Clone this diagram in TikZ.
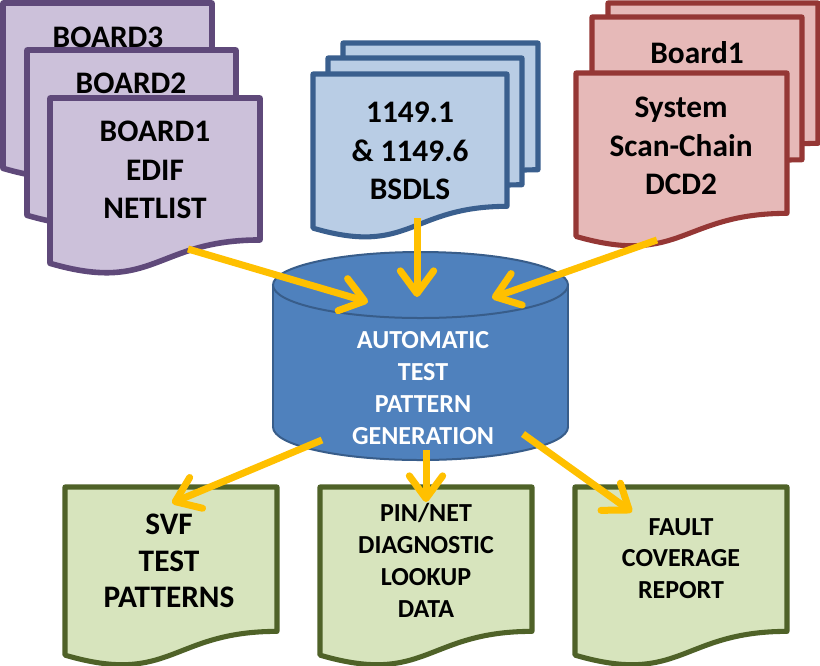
\documentclass[tikz,border=0pt]{standalone}
\usepackage{fontspec}
\setmainfont{Carlito}
\usetikzlibrary{arrows.meta}
\definecolor{purfill}{HTML}{CCC1DA}
\definecolor{purline}{HTML}{5F497A}
\definecolor{blufill}{HTML}{B9CDE5}
\definecolor{bluline}{HTML}{3A5F8E}
\definecolor{redfill}{HTML}{E6B9B8}
\definecolor{redline}{HTML}{953735}
\definecolor{grnfill}{HTML}{D7E4BD}
\definecolor{grnline}{HTML}{4F6228}
\definecolor{cylfill}{HTML}{4F81BD}
\definecolor{cylline}{HTML}{385D8A}
\definecolor{arrcol}{HTML}{FFC000}
\newcommand\docpage[5]{%
  \draw[#5] (#1,#2) -- ({#1+#3},#2) -- ({#1+#3},{#2+0.802*#4})
    .. controls ({#1+0.5*#3},{#2+0.802*#4}) and ({#1+0.5*#3},{#2+1.107*#4}) ..
    (#1,{#2+0.934*#4}) -- cycle;}
\tikzset{
  pdoc/.style={fill=purfill,draw=purline,line width=4.2pt,line join=round},
  bdoc/.style={fill=blufill,draw=bluline,line width=3.8pt,line join=round},
  rdoc/.style={fill=redfill,draw=redline,line width=3.8pt,line join=round},
  gdoc/.style={fill=grnfill,draw=grnline,line width=3.8pt,line join=round},
  lbl/.style={align=center,inner sep=0pt,font=\bfseries\fontsize{23.5}{29}\selectfont},
  arr/.style={draw=arrcol,line width=5.25pt,-{Straight Barb[length=17pt,width=25pt,round]}},
}
\begin{document}
\begin{tikzpicture}[x=0.75pt,y=-0.75pt]
\useasboundingbox[fill=white] (0,0) rectangle (820,665);
% purple stack
\docpage{3}{3}{209}{177}{pdoc}
\docpage{27}{50}{209}{177}{pdoc}
\docpage{50}{98}{210}{177}{pdoc}
\node[lbl] (b3) at (108,37) {BOARD3};
\node[lbl] (b2) at (131,83) {BOARD2};
\node[lbl] (b1) at (155,170) {BOARD1\\EDIF\\NETLIST};
% blue stack
\docpage{343}{43}{195}{158}{bdoc}
\docpage{328}{58}{194}{158}{bdoc}
\docpage{313}{74}{194}{165}{bdoc}
\node[lbl] (bsdl) at (410,151) {1149.1\\\& 1149.6\\BSDLS};
% red stack
\docpage{608}{3}{210}{175}{rdoc}
\docpage{592}{17}{210}{178}{rdoc}
\docpage{576}{73}{211}{175}{rdoc}
\node[lbl,font=\bfseries\fontsize{23.5}{29}\selectfont] (rb1) at (697,53) {Board1};
\node[lbl,font=\bfseries\fontsize{23.5}{29}\selectfont] (dcd) at (681,146) {System\\Scan-Chain\\DCD2};
% cylinder
\filldraw[fill=cylfill,draw=cylline,line width=1.5pt] (420.5,427) ellipse (147.5 and 33);
\fill[cylfill] (273,285) rectangle (568,427);
\draw[cylline,line width=1.5pt] (273,285) -- (273,427) (568,285) -- (568,427);
\filldraw[fill=cylfill,draw=cylline,line width=1.5pt] (420.5,285) ellipse (147.5 and 33);
\node[lbl,text=white,font=\bfseries\fontsize{19.5}{24}\selectfont] (atpg) at (423,388) {AUTOMATIC\\TEST\\PATTERN\\GENERATION};
% green outputs
\docpage{65}{487}{212}{180}{gdoc}
\docpage{320}{487}{212}{180}{gdoc}
\docpage{575}{487}{212}{180}{gdoc}
\node[lbl,font=\bfseries\fontsize{23.5}{27.5}\selectfont] (svf) at (169,561) {SVF\\TEST\\PATTERNS};
\node[lbl,font=\bfseries\fontsize{19.5}{24}\selectfont] (pin) at (426,560) {PIN/NET\\DIAGNOSTIC\\LOOKUP\\DATA};
\node[lbl,font=\bfseries\fontsize{19.5}{23.5}\selectfont] (fault) at (681,558.5) {FAULT\\COVERAGE\\REPORT};
% arrow endpoints
\coordinate (p1s) at (188,249); \coordinate (p1e) at (368,302);
\coordinate (p2s) at (417,218); \coordinate (p2e) at (417,297);
\coordinate (p3s) at (657,240); \coordinate (p3e) at (492,298);
\coordinate (q1s) at (322,440); \coordinate (q1e) at (172,503);
\coordinate (q2s) at (426,450); \coordinate (q2e) at (426,502);
\coordinate (q3s) at (523,434); \coordinate (q3e) at (632,512);
\draw[arr] (p1s) -- (p1e);
\draw[arr] (p2s) -- (p2e);
\draw[arr] (p3s) -- (p3e);
\draw[arr] (q1s) -- (q1e);
\draw[arr] (q2s) -- (q2e);
\draw[arr] (q3s) -- (q3e);
\end{tikzpicture}
\end{document}
